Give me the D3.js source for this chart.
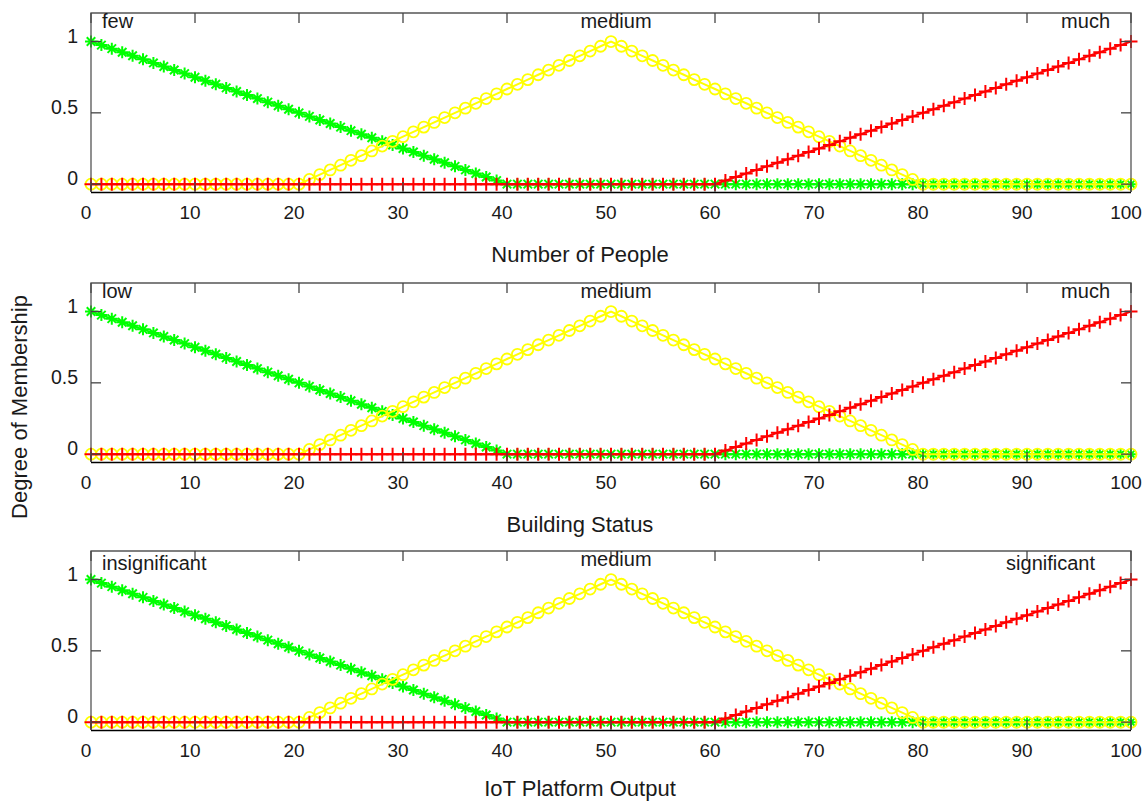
<!DOCTYPE html>
<html lang="en">

<head>
  <meta charset="UTF-8">
  <title>Membership functions</title>
  <script src="https://d3js.org/d3.v7.min.js"></script>
  <style>
    body { margin: 0; background: #fff; }
    text { font-family: 'Liberation Sans', Arial, sans-serif; fill: #1a1a1a; }
  </style>
</head>

<body>
  <div id="root"></div>
  <script>
    // sample positions on the universe of discourse
    const xs = d3.range(0, 101, 1);

    // low / few / insignificant
    const few = [
      1, 0.975, 0.95, 0.925, 0.9, 0.875, 0.85, 0.825, 0.8, 0.775, 0.75, 0.725, 0.7, 0.675, 0.65, 0.625, 0.6, 0.575, 0.55, 0.525,
      0.5, 0.475, 0.45, 0.425, 0.4, 0.375, 0.35, 0.325, 0.3, 0.275, 0.25, 0.225, 0.2, 0.175, 0.15, 0.125, 0.1, 0.075, 0.05, 0.025,
      0, 0, 0, 0, 0, 0, 0, 0, 0, 0, 0, 0, 0, 0, 0, 0, 0, 0, 0, 0,
      0, 0, 0, 0, 0, 0, 0, 0, 0, 0, 0, 0, 0, 0, 0, 0, 0, 0, 0, 0,
      0, 0, 0, 0, 0, 0, 0, 0, 0, 0, 0, 0, 0, 0, 0, 0, 0, 0, 0, 0, 0
    ];
    // medium
    const medium = [
      0, 0, 0, 0, 0, 0, 0, 0, 0, 0, 0, 0, 0, 0, 0, 0, 0, 0, 0, 0,
      0, 0.033, 0.067, 0.1, 0.133, 0.167, 0.2, 0.233, 0.267, 0.3, 0.333, 0.367, 0.4, 0.433, 0.467, 0.5, 0.533, 0.567, 0.6, 0.633,
      0.667, 0.7, 0.733, 0.767, 0.8, 0.833, 0.867, 0.9, 0.933, 0.967, 1, 0.967, 0.933, 0.9, 0.867, 0.833, 0.8, 0.767, 0.733, 0.7,
      0.667, 0.633, 0.6, 0.567, 0.533, 0.5, 0.467, 0.433, 0.4, 0.367, 0.333, 0.3, 0.267, 0.233, 0.2, 0.167, 0.133, 0.1, 0.067, 0.033,
      0, 0, 0, 0, 0, 0, 0, 0, 0, 0, 0, 0, 0, 0, 0, 0, 0, 0, 0, 0, 0
    ];
    // much / significant
    const much = [
      0, 0, 0, 0, 0, 0, 0, 0, 0, 0, 0, 0, 0, 0, 0, 0, 0, 0, 0, 0,
      0, 0, 0, 0, 0, 0, 0, 0, 0, 0, 0, 0, 0, 0, 0, 0, 0, 0, 0, 0,
      0, 0, 0, 0, 0, 0, 0, 0, 0, 0, 0, 0, 0, 0, 0, 0, 0, 0, 0, 0,
      0, 0.025, 0.05, 0.075, 0.1, 0.125, 0.15, 0.175, 0.2, 0.225, 0.25, 0.275, 0.3, 0.325, 0.35, 0.375, 0.4, 0.425, 0.45, 0.475,
      0.5, 0.525, 0.55, 0.575, 0.6, 0.625, 0.65, 0.675, 0.7, 0.725, 0.75, 0.775, 0.8, 0.825, 0.85, 0.875, 0.9, 0.925, 0.95, 0.975, 1
    ];

    const panelTitles = ['Number of People', 'Building Status', 'IoT Platform Output'];
    const termLabels = [
      ['few', 'medium', 'much'],
      ['low', 'medium', 'much'],
      ['insignificant', 'medium', 'significant']
    ];
    const xTicks = [0, 10, 20, 30, 40, 50, 60, 70, 80, 90, 100];
    const yTicks = [0, 0.5, 1];
    const yTickLabels = ['0', '0.5', '1'];
    const yTitle = 'Degree of Membership';

    const W = 1142, H = 802;
    const left = 91, right = 1131, ph = 179;
    const panelTops = [13, 283, 551];

    const svg = d3.select('#root').append('svg').attr('width', W).attr('height', H);

    const x = d3.scaleLinear().domain([0, 100]).range([left, right]);

    // marker shapes (drawn around 0,0)
    const starPath = (r) => {
      const d = r * 0.7071;
      return `M${-r},0L${r},0M0,${-r}L0,${r}M${-d},${-d}L${d},${d}M${-d},${d}L${d},${-d}`;
    };
    const plusPath = (r) => `M${-r},0L${r},0M0,${-r}L0,${r}`;

    const seriesDefs = [
      { values: few, color: '#00ff00', marker: 'star' },
      { values: medium, color: '#ffff00', marker: 'circle' },
      { values: much, color: '#ff0000', marker: 'plus' }
    ];

    panelTops.forEach((top, p) => {
      const y = d3.scaleLinear().domain([-0.055, 1.2]).range([top + ph, top]);
      const g = svg.append('g');
      const bottom = top + ph;

      // series: line + markers, green then yellow then red
      seriesDefs.forEach(s => {
        const pts = xs.map((xv, i) => [xv, s.values[i]]);
        const line = d3.line().x(d => x(d[0])).y(d => y(d[1]));
        g.append('path')
          .attr('d', line(pts))
          .attr('fill', 'none')
          .attr('stroke', s.color)
          .attr('stroke-width', 2);

        const m = g.append('g').selectAll('.m').data(pts).enter();
        if (s.marker === 'circle') {
          m.append('circle')
            .attr('cx', d => x(d[0]))
            .attr('cy', d => y(d[1]))
            .attr('r', 5.5)
            .attr('fill', 'none')
            .attr('stroke', s.color)
            .attr('stroke-width', 1.8);
        } else {
          m.append('path')
            .attr('transform', d => `translate(${x(d[0])},${y(d[1])})`)
            .attr('d', s.marker === 'star' ? starPath(6) : plusPath(6.5))
            .attr('fill', 'none')
            .attr('stroke', s.color)
            .attr('stroke-width', 2);
        }
      });

      // box
      g.append('path')
        .attr('d', `M${left},${bottom}V${top}H${right}V${bottom}`)
        .attr('fill', 'none').attr('stroke', '#555').attr('stroke-width', 1.3);
      g.append('line')
        .attr('x1', left).attr('x2', right).attr('y1', bottom + 0.5).attr('y2', bottom + 0.5)
        .attr('stroke', '#000').attr('stroke-width', 1.3);

      // x ticks, inward on top and bottom
      xTicks.forEach(t => {
        g.append('line').attr('x1', x(t)).attr('x2', x(t)).attr('y1', top).attr('y2', top + 10)
          .attr('stroke', '#444').attr('stroke-width', 1.3);
        g.append('line').attr('x1', x(t)).attr('x2', x(t)).attr('y1', bottom).attr('y2', bottom - 10)
          .attr('stroke', '#444').attr('stroke-width', 1.3);
        g.append('text')
          .attr('x', x(t) - 5)
          .attr('y', bottom + 27)
          .attr('text-anchor', 'middle')
          .attr('font-size', 19)
          .text(t);
      });

      // y ticks, inward on left and right
      yTicks.forEach((t, i) => {
        g.append('line').attr('x1', left).attr('x2', left + 10).attr('y1', y(t)).attr('y2', y(t))
          .attr('stroke', '#444').attr('stroke-width', 1.3);
        g.append('line').attr('x1', right).attr('x2', right - 10).attr('y1', y(t)).attr('y2', y(t))
          .attr('stroke', '#444').attr('stroke-width', 1.3);
        g.append('text')
          .attr('x', 78)
          .attr('y', y(t) + 1)
          .attr('text-anchor', 'end')
          .attr('font-size', 19.5)
          .text(yTickLabels[i]);
      });

      // term labels
      const labels = termLabels[p];
      const sideY = p === 2 ? top + 19 : top + 15;
      g.append('text').attr('x', 102).attr('y', sideY)
        .attr('font-size', 20).text(labels[0]);
      g.append('text').attr('x', x(50) + 5).attr('y', top + 15)
        .attr('text-anchor', 'middle').attr('font-size', 20).text(labels[1]);
      g.append('text').attr('x', p === 2 ? 1095 : 1110).attr('y', sideY)
        .attr('text-anchor', 'end').attr('font-size', 20).text(labels[2]);

      // panel x title
      g.append('text')
        .attr('x', x(50) - 31)
        .attr('y', p === 2 ? bottom + 66 : bottom + 70)
        .attr('text-anchor', 'middle')
        .attr('font-size', 22)
        .text(panelTitles[p]);
    });

    // shared y title
    svg.append('text')
      .attr('transform', 'translate(27,407) rotate(-90)')
      .attr('text-anchor', 'middle')
      .attr('font-size', 22)
      .text(yTitle);
  </script>
</body>

</html>
